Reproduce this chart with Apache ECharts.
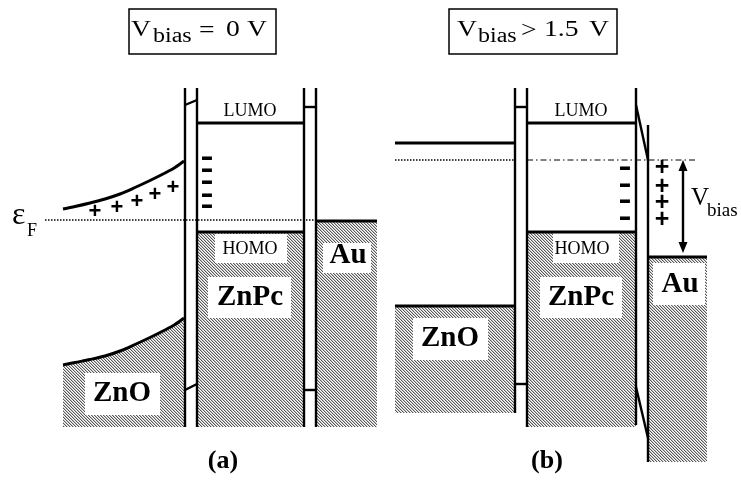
<!DOCTYPE html>
<html><head><meta charset="utf-8">
<script src="https://cdn.jsdelivr.net/npm/echarts@6/dist/echarts.min.js"></script>
<style>html,body{margin:0;padding:0;background:#fff}#c{width:741px;height:484px}</style>
</head><body><div id="c"></div>
<script>
// ---------- Diagram data (x: position across the device, y: energy depth, 0 = top) ----------
// Panel (a): Vbias = 0 V
const znoConductionA = [[63,209],[75,206.5],[90,203],[105,199],[120,194],[135,187.5],[150,180.5],[165,173],[175,167.5],[184,161]];
const znoValenceA    = [[63,365],[75,362.5],[90,359.5],[105,356],[120,351],[135,344.5],[150,337.5],[165,330],[175,324.5],[184,318]];
const znoBottomA = 427;
// Hatched (filled) states [x1, yTop, x2, yBottom]
const filledStates = [
  [197,232,304,427],[316,221,377,427],                    // (a) ZnPc HOMO, Au
  [395,306,515,413],[527,232,636,427],[648,257,707,462]   // (b) ZnO, ZnPc HOMO, Au
];
// Energy levels
const levelLines = [
  [[197,123],[304,123]],[[197,232],[304,232]],[[316,221],[377,221]],
  [[395,143],[515,143]],[[395,306],[515,306]],[[527,123],[636,123]],[[527,232],[636,232]],[[648,257],[707,257]]
];
// Interface walls and barrier ticks
const wallLines = [
  [[185,88],[185,427]],[[197,88],[197,427]],[[304,88],[304,427]],[[316,88],[316,427]],
  [[185,105],[197,100]],[[185,390],[197,384]],[[304,107],[316,107]],[[304,390],[316,390]],
  [[515,88],[515,413]],[[527,88],[527,427]],[[515,107],[527,107]],[[515,384],[527,384]],
  [[636,88],[636,425]],[[648,125],[648,462]],[[636,105],[648,160]],[[636,387],[648,438]]
];
const fermiDotted  = [[[45,220],[316,220]],[[395,160],[515,160]]];
const fermiDashDot = [[[527,160],[697,160]]];
const biasArrow = [[683,160,253]];
const titleBoxes = [[129,9,276,54],[449,9,617,54]];
const labelBoxes = [[215,234,287,263],[208,277,291,318],[323,243,371,273],[85,373,160,415],
                    [553,233,619,263],[540,277,622,318],[653,263,705,305],[413,318,488,360]];
const plusA  = [[95,212],[117,208],[137,202],[155,195],[173,188]];
const plusB  = [[662,168],[662,187],[662,203],[662,220]];
const minusA = [[207,160],[207,172],[207,184],[207,197],[207,208]];
const minusB = [[625,170],[625,187],[625,203],[625,220]];
const orbitalLabels  = [[250,111,'LUMO'],[250,249,'HOMO'],[581,111,'LUMO'],[582,249,'HOMO']];
const materialLabels = [[250,298,'ZnPc'],[348,256,'Au'],[122,394,'ZnO'],[581,298,'ZnPc'],[680,285,'Au'],[450,339,'ZnO']];
const panelLabels = [[223,461,'(a)'],[547,461,'(b)']];
const titleBig   = [[131,30,'V'],[199,31,'='],[226,30,'0'],[247,30,'V'],[457,30,'V'],[521,31,'>'],[544,30,'1.5'],[589,30,'V']];
const titleSub   = [[153,37,'bias'],[478,37,'bias']];
const vbiasBig = [[691,198,'V']];
const vbiasSub = [[707,211,'bias']];
const fermiSymbol = [[12,216,'ε']];
const fermiSub = [[27,231,'F']];

// ---------- rendering ----------
function makeHatch(){
  const c=document.createElement('canvas'); c.width=3; c.height=3;
  const g=c.getContext('2d'); g.fillStyle='#fff'; g.fillRect(0,0,3,3);
  for(let y=0;y<3;y++) for(let x=0;x<3;x++){
    const k=(((x-y)%3)+3)%3;
    if(k===0){g.fillStyle='#585858'; g.fillRect(x,y,1,1);}
    else if(k===1){g.fillStyle='#c4c4c4'; g.fillRect(x,y,1,1);}
  }
  return c;
}
const hatch = {image: makeHatch(), repeat: 'repeat'};

function series(items, build, z){
  return {type:'custom', coordinateSystem:'cartesian2d', silent:true, clip:false, z:z,
    data: items.map((_,i)=>[i,i]),
    renderItem: (p, api) => build(items[p.dataIndex], api)};
}
const pt = (api, p) => api.coord(p);
function polyline(style, smooth){ return (seg, api) => ({type:'polyline', shape:{points: seg.map(p=>pt(api,p)), smooth: smooth||0}, style: Object.assign({fill:null, stroke:'#000'}, style)}); }
function rectEl(style){ return (r, api) => { const a=pt(api,[r[0],r[1]]), b=pt(api,[r[2],r[3]]);
  return {type:'rect', shape:{x:a[0],y:a[1],width:b[0]-a[0],height:b[1]-a[1]}, style:style}; }; }
function textEl(fam, size, weight, align, scaleX, dy){ return (t, api) => { const c=pt(api,[t[0],t[1]]);
  return {type:'text', x:c[0], y:c[1]+(dy||0), scaleX:scaleX||1,
    style:{text:t[2], fontFamily:fam, fontSize:size, fontWeight:weight, fill:'#000', align:align, verticalAlign:'middle'}}; }; }
function signEl(sym, fam, size, dy, sx){ return (t, api) => { const c=pt(api,t);
  return {type:'text', x:c[0], y:c[1]+(dy||0), scaleX:sx||1, style:{text:sym, fontFamily:fam, fontSize:size, fontWeight:'bold', fill:'#000', align:'center', verticalAlign:'middle'}}; }; }

const znoRegionA = [znoValenceA.concat([[184,znoBottomA],[63,znoBottomA]])];

const serif = 'Liberation Serif';
const sans = 'Liberation Sans';
const opt = {
  animation:false,
  grid:{left:0,right:0,top:0,bottom:0},
  xAxis:{type:'value', min:0, max:741, show:false},
  yAxis:{type:'value', min:0, max:484, inverse:true, show:false},
  series:[
    series(filledStates, rectEl({fill:hatch, stroke:null}), 1),
    series(znoRegionA, (poly, api)=>({type:'polygon', shape:{points: poly.map(p=>pt(api,p))}, style:{fill:hatch, stroke:null}}), 1),
    series(labelBoxes, rectEl({fill:'#fff', stroke:null}), 2),
    series(titleBoxes, rectEl({fill:'#fff', stroke:'#000', lineWidth:1.5}), 2),
    series(fermiDotted, polyline({lineWidth:1.5, lineDash:[1.5,1.5]}), 3),
    series(fermiDashDot, polyline({lineWidth:1, lineDash:[6,3,1.5,3]}), 3),
    series(levelLines, polyline({lineWidth:2.8}), 4),
    series(wallLines, polyline({lineWidth:2.4}), 4),
    series([znoConductionA, znoValenceA], polyline({lineWidth:3}, 0.3), 4),
    series(biasArrow, (a, api)=>{ const t=pt(api,[a[0],a[1]]), b=pt(api,[a[0],a[2]]);
      return {type:'group', children:[
        {type:'line', shape:{x1:t[0],y1:t[1]+8,x2:b[0],y2:b[1]-8}, style:{stroke:'#000', lineWidth:2.4}},
        {type:'polygon', shape:{points:[[t[0],t[1]],[t[0]-4.5,t[1]+11],[t[0]+4.5,t[1]+11]]}, style:{fill:'#000'}},
        {type:'polygon', shape:{points:[[b[0],b[1]],[b[0]-4.5,b[1]-11],[b[0]+4.5,b[1]-11]]}, style:{fill:'#000'}}
      ]}; }, 4),
    series(plusA, signEl('+', sans, 22, 0), 5),
    series(plusB, signEl('+', sans, 25, 0), 5),
    series(minusA, signEl('-', sans, 30, -2, 1.3), 5),
    series(minusB, signEl('-', sans, 30, -2, 1.3), 5),
    series(orbitalLabels, textEl(serif, 18, 'normal', 'center'), 6),
    series(materialLabels, textEl(serif, 29, 'bold', 'center'), 6),
    series(panelLabels, textEl(serif, 26, 'bold', 'center'), 6),
    series(titleBig, textEl(serif, 23, 'normal', 'left', 1.2), 6),
    series(titleSub, textEl(serif, 20, 'normal', 'left', 1.2), 6),
    series(vbiasBig, textEl(serif, 25, 'normal', 'left'), 6),
    series(vbiasSub, textEl(serif, 19, 'normal', 'left'), 6),
    series(fermiSymbol, textEl(serif, 32, 'normal', 'left'), 6),
    series(fermiSub, textEl(serif, 18, 'normal', 'left'), 6)
  ]
};
const chart = echarts.init(document.getElementById('c'), null, {renderer:'canvas'});
chart.setOption(opt);
</script></body></html>
